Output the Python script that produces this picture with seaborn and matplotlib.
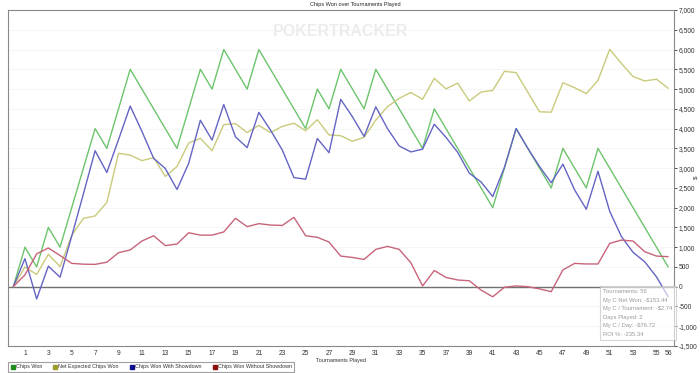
import matplotlib.pyplot as plt
import matplotlib.ticker as mticker
from matplotlib.lines import Line2D
import numpy as np
import pandas as pd
import seaborn as sns

# data
tournaments = list(range(0, 57))

chips_won = [0, 1000, 500, 1500, 1000, 2000, 3000, 4000, 3500, 4500,
             5500, 5000, 4500, 4000, 3500, 4500, 5500, 5000, 6000, 5500,
             5000, 6000, 5500, 5000, 4500, 4000, 5000, 4500, 5500, 5000,
             4500, 5500, 5000, 4500, 4000, 3500, 4500, 4000, 3500, 3000,
             2500, 2000, 3000, 4000, 3500, 3000, 2500, 3500, 3000, 2500,
             3500, 3000, 2500, 2000, 1500, 1000, 500]

net_expected = [0, 500, 310, 820, 510, 1300, 1730, 1790, 2130, 3375,
                3330, 3190, 3265, 2790, 3040, 3635, 3755, 3440, 4100, 4125,
                3900, 4080, 3900, 4055, 4135, 3945, 4225, 3840, 3820, 3680,
                3780, 4215, 4555, 4765, 4915, 4740, 5270, 5005, 5150, 4700,
                4925, 4965, 5450, 5415, 4920, 4425, 4415, 5160, 5035, 4885,
                5220, 6005, 5650, 5315, 5205, 5250, 5020]

with_showdown = [0, 710, -310, 520, 240, 1280, 2350, 3440, 2890, 3720,
                 4570, 3930, 3250, 2990, 2460, 3120, 4210, 3710, 4610, 3790,
                 3520, 4410, 3960, 3460, 2760, 2720, 3750, 3390, 4740, 4300,
                 3800, 4550, 4000, 3560, 3410, 3480, 4110, 3780, 3400, 2870,
                 2650, 2280, 3020, 4000, 3500, 3040, 2630, 3100, 2450, 1960,
                 2920, 1910, 1270, 870, 630, 250, -250]

without_showdown = [0, 300, 830, 980, 790, 590, 570, 565, 620, 860,
                    930, 1155, 1290, 1040, 1080, 1365, 1305, 1305, 1385, 1730,
                    1520, 1595, 1560, 1550, 1755, 1290, 1250, 1130, 775, 740,
                    690, 945, 1020, 945, 605, 20, 410, 235, 170, 150,
                    -85, -255, -15, 20, 0, -55, -125, 425, 590, 575,
                    575, 1095, 1180, 1155, 885, 775, 760]

series_names = ['Chips Won', 'Net Expected Chips Won',
                'Chips Won With Showdown', 'Chips Won Without Showdown']
line_colors = ['#6cc46c', '#caca7c', '#6464c4', '#c8647a']
legend_colors = ['#1e8c1e', '#9c9c2c', '#10108c', '#8c1010']

info_lines = ['Tournaments: 56', 'My C Net Won: -$153.44', 'My C / Tournament: -$2.74',
              'Days Played: 2', 'My C / Day: -$76.72', 'ROI %: -235.34']

df = pd.DataFrame({'Tournaments': tournaments,
                   series_names[0]: chips_won,
                   series_names[1]: net_expected,
                   series_names[2]: with_showdown,
                   series_names[3]: without_showdown})
long_df = df.melt(id_vars='Tournaments', var_name='Series', value_name='Chips')

sns.set_style('white')
plt.rcParams['font.family'] = ['Liberation Sans', 'DejaVu Sans']

fig = plt.figure(figsize=(7, 3.73), dpi=100)
ax = fig.add_axes([8/700, 27/373, 666/700, 336/373])

# faint background grid
for v in np.arange(-1500, 7001, 500):
    ax.axhline(v, color='#f4f4f4', linewidth=0.6, zorder=0)
ax.axhline(0, color='#707070', linewidth=1.0, zorder=1)

sns.lineplot(data=long_df, x='Tournaments', y='Chips', hue='Series',
             hue_order=series_names, palette=line_colors, linewidth=1.0,
             legend=False, ax=ax, zorder=3)

ax.text(0.5, 0.935, 'POKERTRACKER', transform=ax.transAxes, ha='center', va='center',
        fontsize=11.5, fontweight='bold', color='#ececec', zorder=0)

ax.set_xlim(-0.45, 56.5)
ax.set_ylim(-1500, 7000)
ax.set_xticks(list(range(1, 56, 2)) + [56])
ax.set_yticks(np.arange(-1500, 7001, 500))
ax.yaxis.tick_right()
ax.yaxis.set_major_formatter(mticker.FuncFormatter(lambda v, p: f'{int(v):,}'))
ax.tick_params(axis='both', labelsize=4.8, colors='#333333', length=2, width=0.6,
               direction='out', pad=1.2)
for s in ax.spines.values():
    s.set_color('#888888')
    s.set_linewidth(0.8)
ax.set_xlabel('Tournaments Played', fontsize=4, color='#333333', labelpad=0.5)
ax.set_ylabel('')

fig.text(0.507, 0.995, 'Chips Won over Tournaments Played', ha='center', va='top',
         fontsize=4, color='#222222')
fig.text(0.994, 0.525, '$', rotation=90, ha='center', va='center', fontsize=4.5, color='#333333')

# stats box
box_text = '\n'.join(info_lines)
ax.text(0.894, 0.098, box_text, transform=ax.transAxes, ha='left', va='center',
        fontsize=4.2, color='#9a9a9a', linespacing=1.9, zorder=5,
        bbox=dict(boxstyle='square,pad=0.5', facecolor='white', alpha=0.6,
                  edgecolor='#bdbdbd', linewidth=0.8))

handles = [Line2D([], [], marker='s', linestyle='none', markersize=3,
                  markerfacecolor=c, markeredgecolor=c) for c in legend_colors]
leg = fig.legend(handles, series_names, loc='upper left', bbox_to_anchor=(8/700, 11/373),
                 ncol=4, fontsize=3.9, frameon=True, fancybox=False, handletextpad=0.2,
                 columnspacing=2.0, borderpad=0.45, handlelength=0.8, borderaxespad=0)
leg.get_frame().set_edgecolor('#888888')
leg.get_frame().set_linewidth(0.8)
for t in leg.get_texts():
    t.set_color('#333333')

fig.savefig('out.png', dpi=100)
